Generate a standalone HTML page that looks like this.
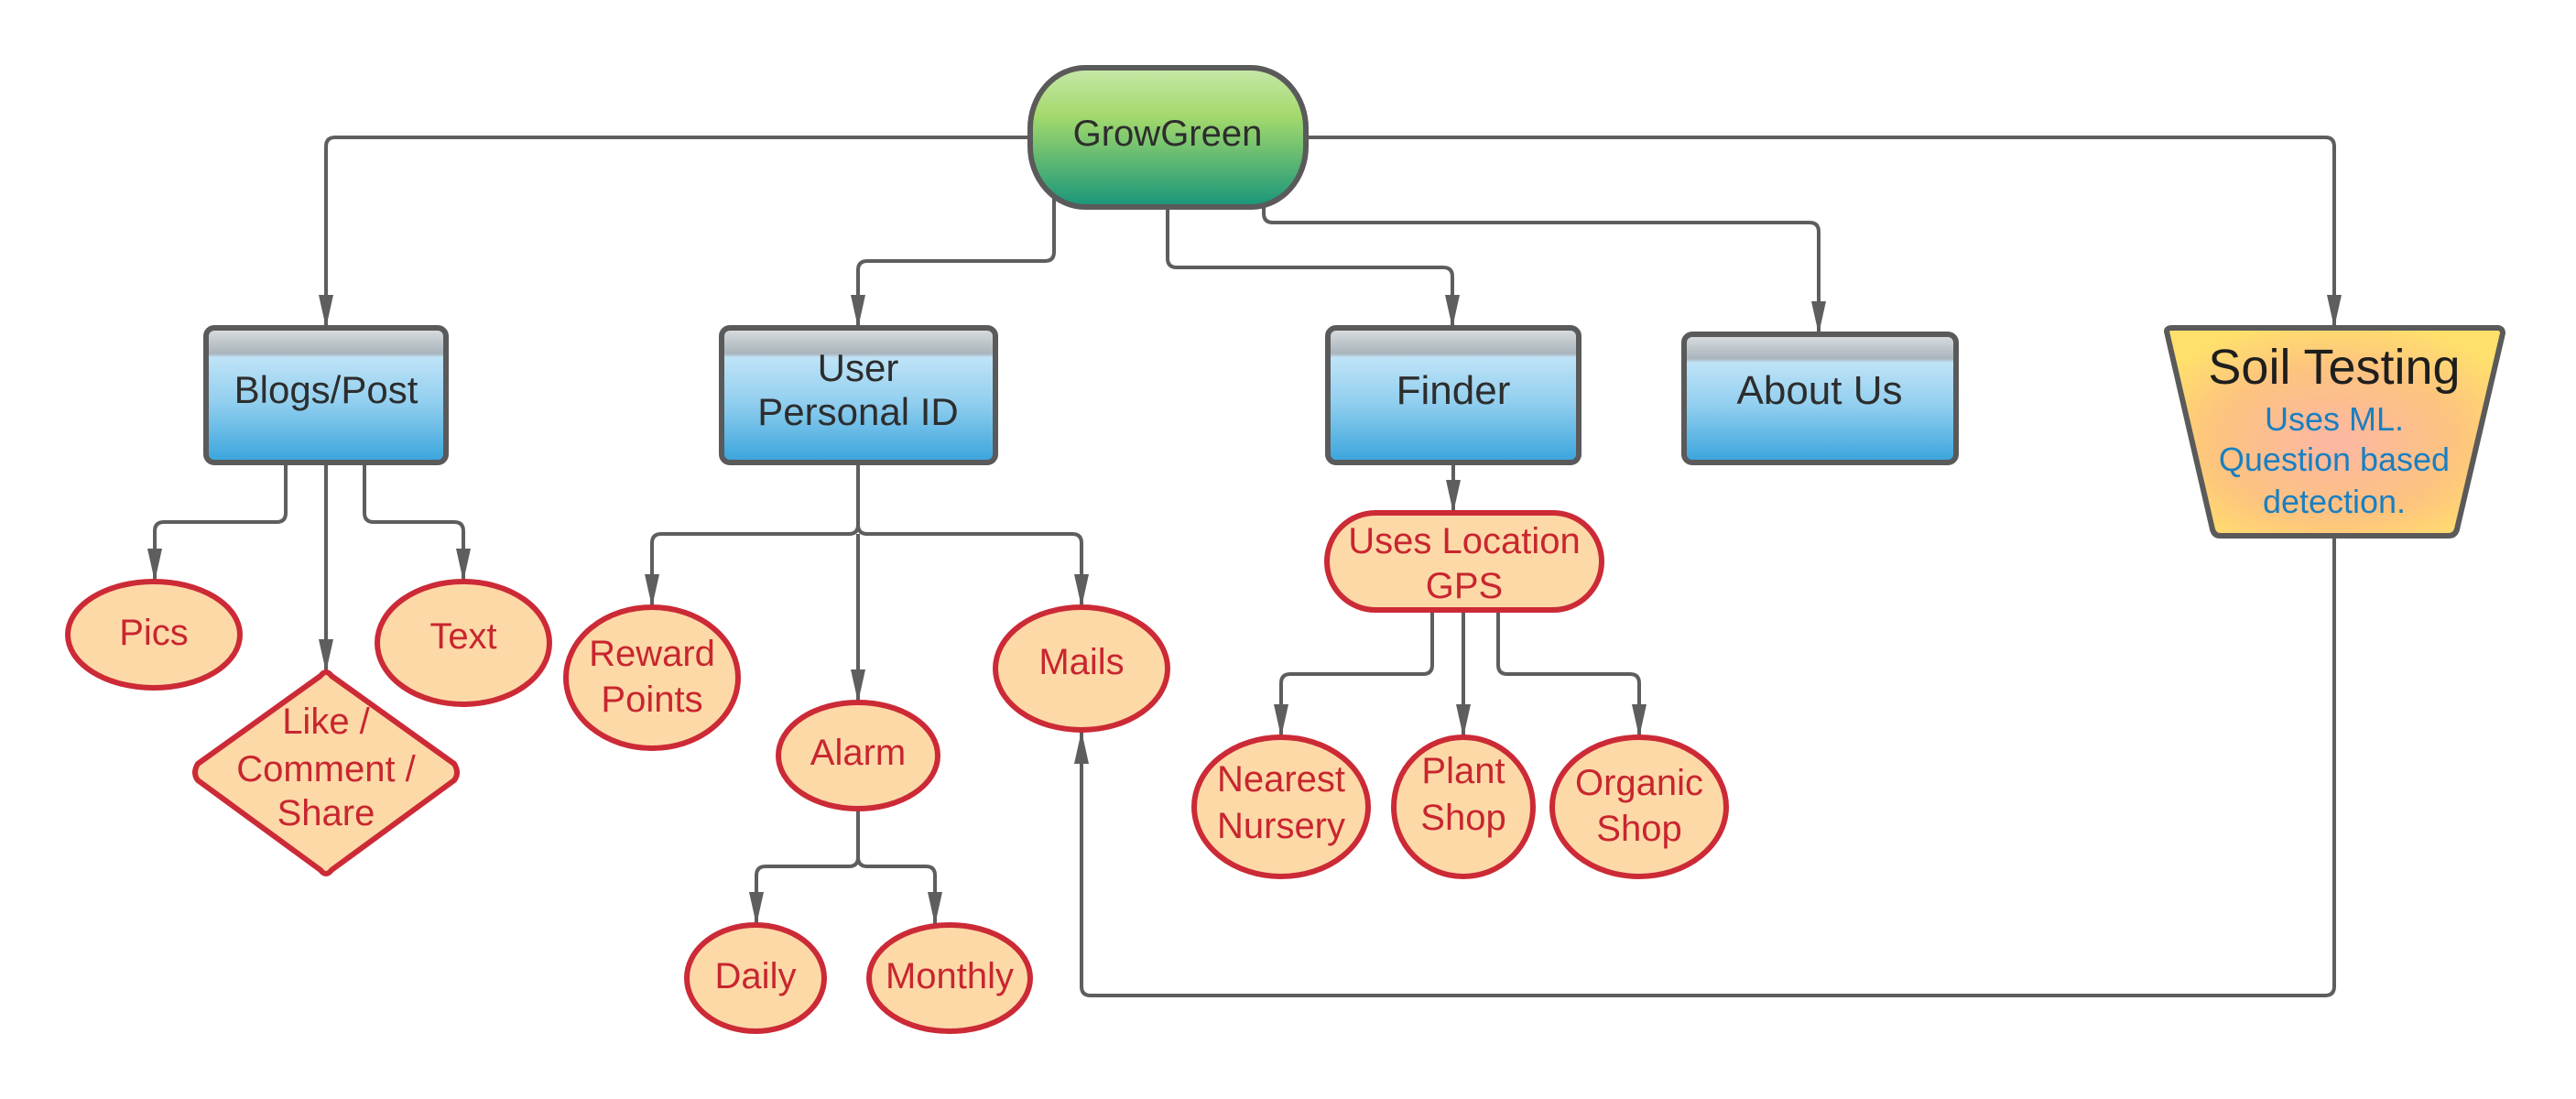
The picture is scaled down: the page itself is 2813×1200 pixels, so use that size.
<!DOCTYPE html>
<html><head><meta charset="utf-8"><style>
html,body{margin:0;padding:0;background:#fff;}
svg{display:block;}
text{font-family:"Liberation Sans",sans-serif;text-anchor:middle;}
.r{fill:#c8262f;font-size:40px;}
.d{fill:#2d2d2d;font-size:42px;}
.b{fill:#1a7fc0;font-size:36px;}
.c{fill:none;stroke:#5e5e5e;stroke-width:4;stroke-linejoin:round;}
.o{fill:#fdd9a8;stroke:#cc2a36;stroke-width:6;}
.bx{fill:url(#blue);stroke:#5a5a5a;stroke-width:6;}
</style></head><body>
<svg width="2813" height="1200" viewBox="0 0 2813 1200" xmlns="http://www.w3.org/2000/svg">
<defs>
<marker id="a" viewBox="0 0 36 16" refX="36" refY="8" markerWidth="36" markerHeight="16" markerUnits="userSpaceOnUse" orient="auto">
<path d="M0,0 L36,8 L0,16 z" fill="#5e5e5e"/></marker>
<linearGradient id="blue" x1="0" y1="0" x2="0" y2="1">
<stop offset="0" stop-color="#dcdfe1"/><stop offset="0.19" stop-color="#a9b4bb"/><stop offset="0.22" stop-color="#bfe3f7"/><stop offset="0.55" stop-color="#92cfef"/><stop offset="1" stop-color="#38a4dc"/></linearGradient>
<linearGradient id="green" x1="0" y1="0" x2="0" y2="1">
<stop offset="0" stop-color="#c6e8a8"/><stop offset="0.35" stop-color="#a3d96c"/><stop offset="1" stop-color="#17957a"/></linearGradient>
<radialGradient id="soil" cx="0.5" cy="0.55" r="0.6">
<stop offset="0" stop-color="#fdb7a4"/><stop offset="0.6" stop-color="#fdc37f"/><stop offset="1" stop-color="#ffe06c"/></radialGradient>
</defs>

<path class="c" d="M1125,150 H366 Q356,150 356,160 V358" marker-end="url(#a)"/>
<path class="c" d="M1426,150 H2539 Q2549,150 2549,160 V358" marker-end="url(#a)"/>
<path class="c" d="M1151,210 V275 Q1151,285 1141,285 H947 Q937,285 937,295 V358" marker-end="url(#a)"/>
<path class="c" d="M1275,226 V282 Q1275,292 1285,292 H1576 Q1586,292 1586,302 V358" marker-end="url(#a)"/>
<path class="c" d="M1380,220 V233 Q1380,243 1390,243 H1976 Q1986,243 1986,253 V365" marker-end="url(#a)"/>

<path class="c" d="M312,505 V560 Q312,570 302,570 H179 Q169,570 169,580 V635" marker-end="url(#a)"/>
<path class="c" d="M356,505 V734" marker-end="url(#a)"/>
<path class="c" d="M398,505 V560 Q398,570 408,570 H496 Q506,570 506,580 V635" marker-end="url(#a)"/>

<path class="c" d="M937,505 V573 Q937,583 927,583 H722 Q712,583 712,593 V663" marker-end="url(#a)"/>
<path class="c" d="M937,573 Q937,583 947,583 H1171 Q1181,583 1181,593 V663" marker-end="url(#a)"/>
<path class="c" d="M937,583 V767" marker-end="url(#a)"/>
<path class="c" d="M937,883 V936 Q937,946 927,946 H836 Q826,946 826,956 V1010" marker-end="url(#a)"/>
<path class="c" d="M937,936 Q937,946 947,946 H1011 Q1021,946 1021,956 V1010" marker-end="url(#a)"/>

<path class="c" d="M2549,585 V1077 Q2549,1087 2539,1087 H1191 Q1181,1087 1181,1077 V798" marker-end="url(#a)"/>

<path class="c" d="M1587,505 V560" marker-end="url(#a)"/>
<path class="c" d="M1564,666 V726 Q1564,736 1554,736 H1409 Q1399,736 1399,746 V805" marker-end="url(#a)"/>
<path class="c" d="M1598,666 V805" marker-end="url(#a)"/>
<path class="c" d="M1636,666 V726 Q1636,736 1646,736 H1780 Q1790,736 1790,746 V805" marker-end="url(#a)"/>

<rect x="1125" y="74" width="301" height="152" rx="60" ry="66" fill="url(#green)" stroke="#5a5a5a" stroke-width="6"/>
<text class="d" x="1275" y="159" style="font-size:40px">GrowGreen</text>

<rect class="bx" x="225" y="358" width="262" height="147" rx="9"/>
<text class="d" x="356" y="440">Blogs/Post</text>
<rect class="bx" x="788" y="358" width="299" height="147" rx="9"/>
<text class="d" x="937" y="416">User</text>
<text class="d" x="937" y="464">Personal ID</text>
<rect class="bx" x="1450" y="358" width="274" height="147" rx="9"/>
<text class="d" x="1587" y="441" style="font-size:44px">Finder</text>
<rect class="bx" x="1839" y="365" width="297" height="140" rx="9"/>
<text class="d" x="1987" y="441" style="font-size:44px">About Us</text>

<path d="M2366,362 Q2366,358 2372,358 H2727 Q2733,358 2733,364 L2683,578 Q2681,585 2674,585 H2424 Q2418,585 2416,578 Z" fill="url(#soil)" stroke="#5a5a5a" stroke-width="6" stroke-linejoin="round"/>
<text x="2549" y="419" style="font-size:54px;fill:#1e1e1e">Soil Testing</text>
<text class="b" x="2549" y="470">Uses ML.</text>
<text class="b" x="2549" y="514">Question based</text>
<text class="b" x="2549" y="560">detection.</text>

<ellipse class="o" cx="168" cy="693" rx="94" ry="58"/>
<text class="r" x="168" y="704">Pics</text>
<path class="o" d="M350,738 Q356,730 362,738 L496,834 Q502,844 496,852 L362,950 Q356,958 350,950 L216,852 Q210,844 216,834 Z" stroke-linejoin="round"/>
<text class="r" x="356" y="801">Like /</text>
<text class="r" x="356" y="853">Comment /</text>
<text class="r" x="356" y="901">Share</text>
<ellipse class="o" cx="506" cy="702" rx="94" ry="67"/>
<text class="r" x="506" y="708">Text</text>

<ellipse class="o" cx="712" cy="740" rx="94" ry="77"/>
<text class="r" x="712" y="727">Reward</text>
<text class="r" x="712" y="777">Points</text>
<ellipse class="o" cx="1181" cy="730" rx="94" ry="67"/>
<text class="r" x="1181" y="736">Mails</text>
<ellipse class="o" cx="937" cy="825" rx="87" ry="58"/>
<text class="r" x="937" y="835">Alarm</text>
<ellipse class="o" cx="825" cy="1068" rx="75" ry="58"/>
<text class="r" x="825" y="1079">Daily</text>
<ellipse class="o" cx="1037" cy="1068" rx="88" ry="58"/>
<text class="r" x="1037" y="1079">Monthly</text>

<rect class="o" x="1449" y="560" width="300" height="106" rx="53"/>
<text class="r" x="1599" y="604">Uses Location</text>
<text class="r" x="1599" y="653">GPS</text>
<ellipse class="o" cx="1399" cy="881" rx="95" ry="76"/>
<text class="r" x="1399" y="864">Nearest</text>
<text class="r" x="1399" y="915">Nursery</text>
<ellipse class="o" cx="1598" cy="881" rx="76" ry="76"/>
<text class="r" x="1598" y="855">Plant</text>
<text class="r" x="1598" y="906">Shop</text>
<ellipse class="o" cx="1790" cy="881" rx="95" ry="76"/>
<text class="r" x="1790" y="868">Organic</text>
<text class="r" x="1790" y="918">Shop</text>
</svg>
</body></html>
